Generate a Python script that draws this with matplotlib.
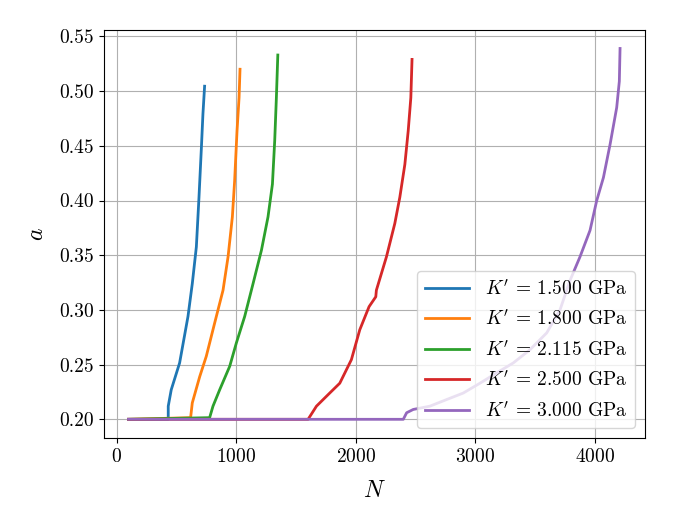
import matplotlib
matplotlib.use('Agg')
import matplotlib.pyplot as plt

plt.rcParams['font.family'] = 'serif'
plt.rcParams['font.serif'] = ['cmr10']
plt.rcParams['mathtext.fontset'] = 'cm'
plt.rcParams['axes.formatter.use_mathtext'] = True
plt.rcParams['font.size'] = 14

labels = [r"$K'\, =\, 1.500$ GPa", r"$K'\, =\, 1.800$ GPa", r"$K'\, =\, 2.115$ GPa",
          r"$K'\, =\, 2.500$ GPa", r"$K'\, =\, 3.000$ GPa"]

N_15 = [100, 432, 432, 457, 527, 597, 633, 667, 689, 709, 722, 736]
a_15 = [0.200, 0.200, 0.212, 0.227, 0.2515, 0.294, 0.324, 0.3576, 0.403, 0.448, 0.479, 0.5045]

N_18 = [100, 619, 633, 695, 750, 820, 890, 932, 968, 987, 1007, 1024, 1032]
a_18 = [0.200, 0.2015, 0.215, 0.239, 0.2576, 0.288, 0.318, 0.3485, 0.385, 0.418, 0.4636, 0.494, 0.520]

N_21 = [100, 778, 806, 862, 946, 1002, 1071, 1141, 1211, 1266, 1303, 1322, 1336, 1348]
a_21 = [0.200, 0.2015, 0.212, 0.227, 0.2485, 0.270, 0.294, 0.324, 0.3545, 0.385, 0.415, 0.4545, 0.494, 0.533]

N_25 = [100, 1601, 1671, 1782, 1866, 1963, 2033, 2111, 2167, 2172, 2256, 2326, 2368, 2410,
        2438, 2460, 2470]
a_25 = [0.200, 0.200, 0.212, 0.224, 0.233, 0.2545, 0.2818, 0.303, 0.312, 0.318, 0.3485, 0.379,
        0.403, 0.433, 0.4636, 0.494, 0.529]

N_30 = [100, 2397, 2425, 2480, 2619, 2758, 2898, 3038, 3177, 3316, 3456, 3596, 3707, 3791,
        3874, 3958, 4014, 4070, 4126, 4181, 4203, 4209]
a_30 = [0.200, 0.200, 0.206, 0.209, 0.212, 0.218, 0.224, 0.233, 0.2424, 0.2515, 0.2636, 0.279,
        0.300, 0.327, 0.3485, 0.3727, 0.400, 0.421, 0.4515, 0.485, 0.509, 0.539]

curves = [(N_15, a_15), (N_18, a_18), (N_21, a_21), (N_25, a_25), (N_30, a_30)]

fig, ax = plt.subplots(figsize=(6.75, 5.25), dpi=100)
fig.subplots_adjust(left=0.154, right=0.955, top=0.943, bottom=0.166)

for (n, a), label in zip(curves, labels):
  ax.plot(n, a, label=label, linewidth=2)

ax.set_xlabel('$N$', fontsize=17, labelpad=10)
ax.set_ylabel('$a$', fontsize=17, labelpad=8)
ax.set_yticks([0.20, 0.25, 0.30, 0.35, 0.40, 0.45, 0.50, 0.55])
ax.set_yticklabels(['0.20', '0.25', '0.30', '0.35', '0.40', '0.45', '0.50', '0.55'])
ax.grid()
ax.legend(loc='lower right', fontsize=14, labelspacing=0.55, handlelength=2.3)

fig.savefig('out.png')
